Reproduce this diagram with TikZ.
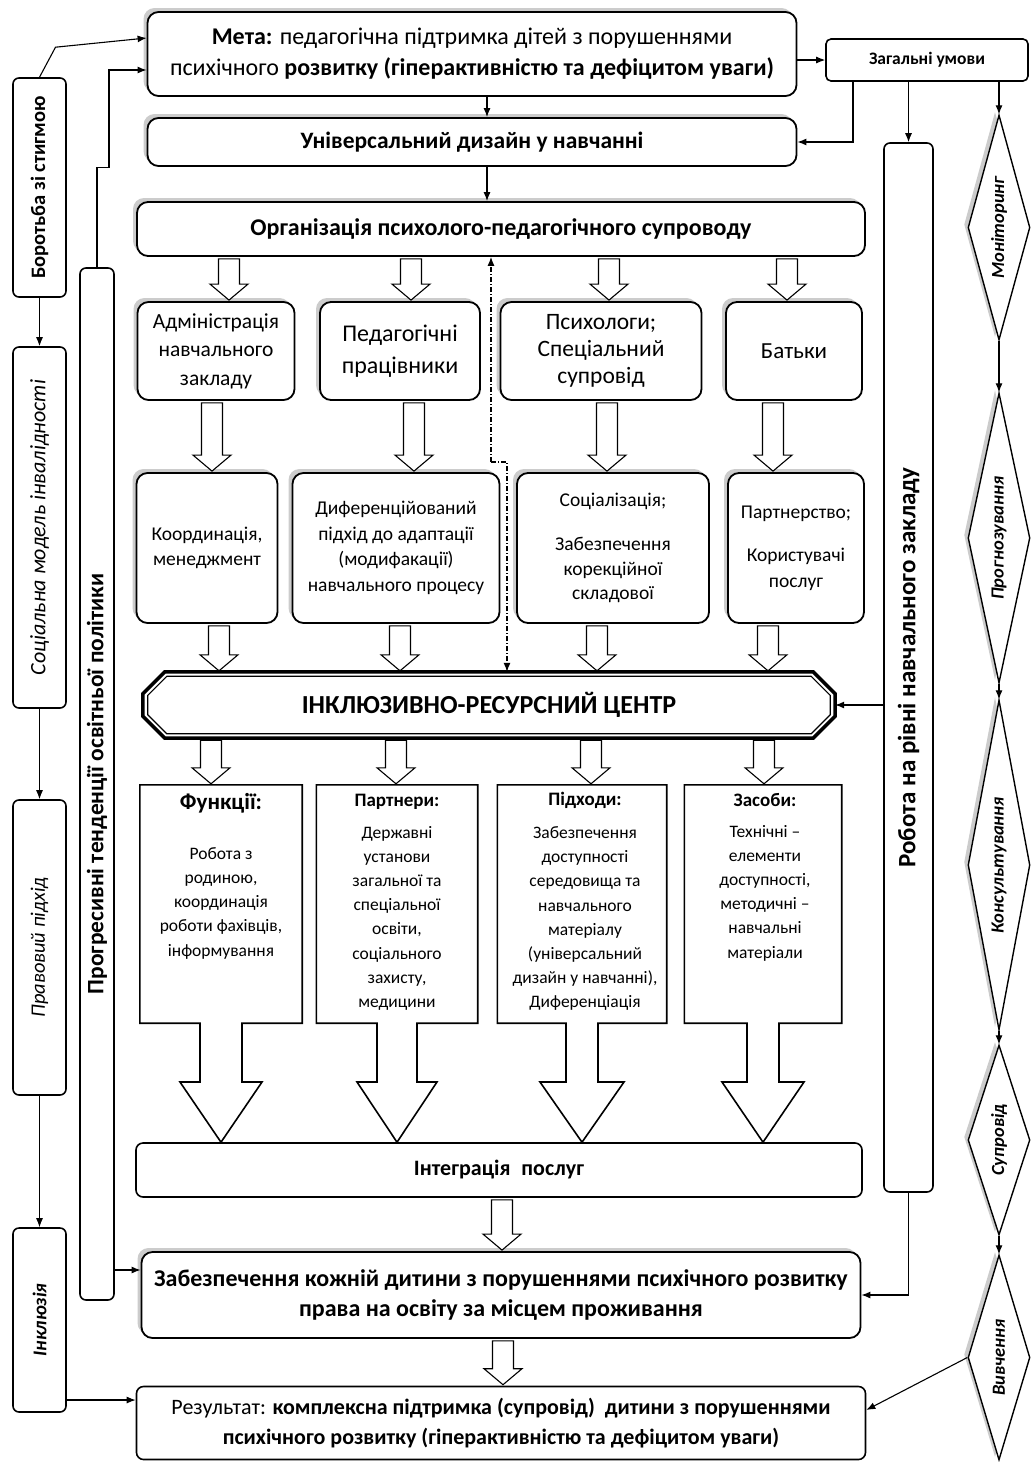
\documentclass[tikz,border=0pt]{standalone}
\usepackage{fontspec}
\setmainfont{Carlito}
\usetikzlibrary{positioning, calc, arrows.meta, shapes.geometric, shadows}

\newcommand{\setfs}[2]{\fontsize{#1pt}{#2pt}\selectfont}

% hollow block arrow at x=#1, from node anchor #2 down to node anchor #3
\newcommand{\fatarrow}[3]{%
  \draw[hollow] let \p1=(#2), \p2=(#3) in
    ({#1pt-10.5pt},{\y1-2pt}) -- ({#1pt+10.5pt},{\y1-2pt}) -- ({#1pt+10.5pt},{\y2+17pt})
    -- ({#1pt+19pt},{\y2+17pt}) -- ({#1pt},{\y2+1pt}) -- ({#1pt-19pt},{\y2+17pt})
    -- ({#1pt-10.5pt},{\y2+17pt}) -- cycle;}

% box running out into a wide arrow down to the integration box
\newcommand{\arrowbox}[3]{%
  \draw[abox] (#1.north west) -- (#1.north east) -- (#1.south east)
    -- ([xshift=#2]#1.south) -- ([xshift=#2]#1.south |- hl) -- ([xshift=#3]#1.south |- hl)
    -- (#1.south |- integ.north) -- ([xshift=-#3]#1.south |- hl) -- ([xshift=-#2]#1.south |- hl)
    -- ([xshift=-#2]#1.south) -- (#1.south west) -- cycle;}

% chamfered outline round a node
\newcommand{\chambox}[3]{%
  \draw[#3] ([xshift=#2]#1.north west) -- ([xshift=-#2]#1.north east) -- ([yshift=-#2]#1.north east)
    -- ([yshift=#2]#1.south east) -- ([xshift=-#2]#1.south east) -- ([xshift=#2]#1.south west)
    -- ([yshift=#2]#1.south west) -- ([yshift=-#2]#1.north west) -- cycle;}

\begin{document}
\begin{tikzpicture}[x=1pt, y=-1pt,
  box/.style={draw, line width=1.8pt, rounded corners=11pt, fill=white, align=center, inner sep=0pt,
    drop shadow={shadow xshift=-4pt, shadow yshift=4pt, fill=black!20, opacity=1}},
  plainbox/.style={draw, line width=1.6pt, rounded corners=7pt, fill=white, align=center, inner sep=0pt},
  lbox/.style={draw, line width=1.6pt, rounded corners=6pt, fill=white, inner sep=0pt, minimum width=53pt},
  diam/.style={diamond, draw, line width=1.4pt, fill=white, inner sep=0pt, minimum width=62pt,
    drop shadow={shadow xshift=-4pt, shadow yshift=3pt, fill=black!20, opacity=1}},
  vtext/.style={rotate=90, inner sep=0pt},
  conn/.style={line width=1.1pt, -{Latex[length=9pt,width=7pt]}},
  dashdot/.style={conn, dash pattern=on 5pt off 2pt on 1pt off 2pt},
  hollow/.style={line width=1.1pt, fill=white},
  abox/.style={line width=1.6pt, fill=white},
  ttl/.style={inner sep=0pt, font=\setfs{19}{22}\bfseries},
  body/.style={inner sep=0pt, align=center, font=\setfs{17.5}{24.2}},
  dtext/.style={vtext, font=\setfs{18.5}{20}\bfseries\itshape},
]
\fill[white] (0,0) rectangle (1034,1462);
\useasboundingbox (0,0) rectangle (1034,1462);

% top blocks
\node[box, minimum width=649pt, minimum height=84pt, font=\setfs{24}{31}] (meta) at (472,54)
  {\textbf{Мета:} педагогічна підтримка дітей з порушеннями\\психічного \textbf{розвитку (гіперактивністю та дефіцитом уваги)}};
\node[plainbox, rounded corners=5pt, minimum width=202pt, minimum height=42pt, font=\setfs{17.5}{20}\bfseries] (umovy) at (927,60) {Загальні умови};
\node[box, minimum width=649pt, minimum height=48pt, font=\setfs{23.5}{26}\bfseries] (udn) at (472,142) {Універсальний дизайн у навчанні};
\node[box, minimum width=728pt, minimum height=54pt, font=\setfs{24}{26}\bfseries] (org) at (501,229) {Організація психолого-педагогічного супроводу};

% participants
\node[box, minimum width=157pt, minimum height=98pt, font=\setfs{21.5}{28.5}] (adm) at (216,351) {Адміністрація\\навчального\\закладу};
\node[box, minimum width=160pt, minimum height=98pt, font=\setfs{24}{32}] (ped) at (400,351) {Педагогічні\\працівники};
\node[box, minimum width=201pt, minimum height=98pt, font=\setfs{23.5}{27}] (psy) at (601,351) {Психологи;\\Спеціальний\\супровід};
\node[box, minimum width=136pt, minimum height=98pt, font=\setfs{23}{26}] (bat) at (794,351) {Батьки};

% tasks
\node[box, minimum width=141pt, minimum height=150pt, font=\setfs{19.5}{25}] (koord) at (207,548) {Координація,\\менеджмент};
\node[box, minimum width=207pt, minimum height=150pt, font=\setfs{19.5}{25.5}] (dif) at (396,548) {Диференційований\\підхід до адаптації\\(модифакації)\\навчального процесу};
\node[box, minimum width=192pt, minimum height=150pt, font=\setfs{19.5}{24.5}] (soc) at (613,548) {Соціалізація;\\[20pt]Забезпечення\\корекційної\\складової};
\node[box, minimum width=136pt, minimum height=150pt, font=\setfs{19.5}{26}] (partn) at (796,548) {Партнерство;\\[17pt]Користувачі\\послуг};

% resource centre
\node[inner sep=0pt, minimum width=692pt, minimum height=66pt] (irc) at (489,705) {};
\node[inner sep=0pt, minimum width=682pt, minimum height=57pt, font=\setfs{26}{28}\bfseries] (irc-in) at (489,705) {ІНКЛЮЗИВНО-РЕСУРСНИЙ ЦЕНТР};
\chambox{irc}{22pt}{line width=3.5pt}
\chambox{irc-in}{19pt}{line width=1.2pt}

% integration and results
\node[plainbox, minimum width=726pt, minimum height=54pt, font=\setfs{22}{24}\bfseries] (integ) at (499,1170) {Інтеграція\enspace послуг};
\node[box, minimum width=719pt, minimum height=86pt, font=\setfs{24}{30}\bfseries] (zab) at (501,1295)
  {Забезпечення кожній дитини з порушеннями психічного розвитку\\права на освіту за місцем проживання};
\node[plainbox, minimum width=729pt, minimum height=73pt, font=\setfs{22}{30}\bfseries] (result) at (501,1423)
  {{\mdseries Результат:} комплексна підтримка (супровід)\ \ дитини з порушеннями\\психічного розвитку (гіперактивністю та дефіцитом уваги)};

% directions and means
\coordinate (hl) at (0,1082);
\node[minimum width=162pt, minimum height=238pt, inner sep=0pt] (func) at (221,904) {};
\node[minimum width=161pt, minimum height=238pt, inner sep=0pt] (partners) at (397,904) {};
\node[minimum width=169pt, minimum height=238pt, inner sep=0pt] (pidkh) at (582,904) {};
\node[minimum width=157pt, minimum height=238pt, inner sep=0pt] (zasob) at (763,904) {};
\arrowbox{func}{21pt}{41pt}
\arrowbox{partners}{20pt}{40pt}
\arrowbox{pidkh}{16pt}{42pt}
\arrowbox{zasob}{16pt}{41pt}
\node[ttl, font=\setfs{23}{25}\bfseries] (func-t) at (221,803) {Функції:};
\node[body, below=34pt of func-t] (func-b) {Робота з\\родиною,\\координація\\роботи фахівців,\\інформування};
\node[ttl] (partners-t) at (397,802) {Партнери:};
\node[body, below=16pt of partners-t] (partners-b) {Державні\\установи\\загальної та\\спеціальної\\освіти,\\соціального\\захисту,\\медицини};
\node[ttl] (pidkh-t) at (585,800) {Підходи:};
\node[body, below=18pt of pidkh-t] (pidkh-b) {Забезпечення\\доступності\\середовища та\\навчального\\матеріалу\\(універсальний\\дизайн у навчанні),\\Диференціація};
\node[ttl] (zasob-t) at (765,800) {Засоби:};
\node[body, below=18pt of zasob-t] (zasob-b) {Технічні –\\елементи\\доступності,\\методичні –\\навчальні\\матеріали};

% left column
\node[lbox, minimum height=219pt] (bor) at (39.5,187.5) {};
\node[vtext, font=\setfs{20.5}{22}\bfseries] (bor-t) at (bor) {Боротьба зі стигмою};
\node[lbox, minimum height=361pt] (socm) at (39.5,527.5) {};
\node[vtext, font=\setfs{22}{24}\itshape] (socm-t) at (socm) {Соціальна модель інвалідності};
\node[lbox, minimum height=295pt] (prav) at (39.5,947.5) {};
\node[vtext, font=\setfs{20.5}{22}\itshape] (prav-t) at (prav) {Правовий підхід};
\node[lbox, minimum height=184pt] (inkl) at (39.5,1320) {};
\node[vtext, font=\setfs{19.5}{22}\bfseries\itshape] (inkl-t) at (inkl) {Інклюзія};
\node[lbox, minimum width=34pt, minimum height=1032pt] (prog) at (97,784) {};
\node[vtext, font=\setfs{23.5}{25}\bfseries] (prog-t) at (prog) {Прогресивні тенденції освітньої політики};

% right column
\node[lbox, minimum width=49pt, minimum height=1049pt] (robota) at (908.5,667.5) {};
\node[vtext, font=\setfs{25}{27}\bfseries] (robota-t) at (robota) {Робота на рівні навчального закладу};
\node[diam, minimum height=225pt] (dmon) at (999,227.5) {};
\node[dtext] (dmon-t) at (dmon) {Моніторинг};
\node[diam, minimum height=290pt] (dprog) at (999,538) {};
\node[dtext] (dprog-t) at (dprog) {Прогнозування};
\node[diam, minimum height=330pt] (dkons) at (999,865) {};
\node[dtext] (dkons-t) at (dkons) {Консультування};
\node[diam, minimum height=190pt] (dsup) at (999,1140) {};
\node[dtext] (dsup-t) at (dsup) {Супровід};
\node[diam, minimum height=205pt] (dviv) at (999,1357.5) {};
\node[dtext] (dviv-t) at (dviv) {Вивчення};

% block arrows
\fatarrow{229}{org.south}{adm.north}
\fatarrow{411}{org.south}{ped.north}
\fatarrow{609}{org.south}{psy.north}
\fatarrow{787}{org.south}{bat.north}
\fatarrow{212}{adm.south}{koord.north}
\fatarrow{414}{ped.south}{dif.north}
\fatarrow{607}{psy.south}{soc.north}
\fatarrow{773}{bat.south}{partn.north}
\fatarrow{219}{koord.south}{irc.north}
\fatarrow{400}{dif.south}{irc.north}
\fatarrow{597}{soc.south}{irc.north}
\fatarrow{768}{partn.south}{irc.north}
\fatarrow{211}{irc.south}{func.north}
\fatarrow{396}{irc.south}{partners.north}
\fatarrow{591}{irc.south}{pidkh.north}
\fatarrow{764}{irc.south}{zasob.north}
\fatarrow{502}{integ.south}{zab.north}
\fatarrow{503}{zab.south}{result.north}

% thin connectors
\draw[conn] (bor.north) -- ++(16,-30) -- ([yshift=16pt]meta.west);
\draw[conn] (prog.north) -- ++(0,-100) -- ++(12,0) |- ([yshift=-16pt]meta.west);
\draw[conn] (bor.south) -- (socm.north);
\draw[conn] (socm.south) -- (prav.north);
\draw[conn] (prav.south) -- (inkl.north);
\draw[conn] ([yshift=-80pt]inkl.east) -- ([yshift=-80pt]inkl.east -| result.west);
\draw[conn] ([yshift=25pt]zab.west -| prog.east) -- ([yshift=25pt]zab.west);
\draw[conn] (umovy.west -| meta.east) -- (umovy.west);
\draw[conn] ([xshift=15pt]meta.south) -- ([xshift=15pt]udn.north);
\draw[conn] ([xshift=15pt]udn.south) -- ([xshift=-14pt]org.north);
\draw[conn] ([xshift=-74pt]umovy.south) |- (udn.east);
\draw[conn] (umovy.south -| robota.north) -- (robota.north);
\draw[conn] (umovy.south -| dmon.north) -- (dmon.north);
\draw[conn] (dmon.south) -- (dprog.north);
\draw[conn] (dprog.south) -- (dkons.north);
\draw[conn] (dkons.south) -- (dsup.north);
\draw[conn] (dsup.south) -- (dviv.north);
\draw[conn] (dviv.west) -- ([yshift=13pt]result.east);
\draw[conn] (robota.west |- irc.east) -- (irc.east);
\draw[conn] (robota.south) |- (zab.east);

% feedback between organisation and centre
\coordinate (dd) at (491,462);
\coordinate (dd2) at (507,462);
\draw[dashdot] (dd) -- (dd |- org.south);
\draw[dashdot] (dd) -- (dd2) -- (dd2 |- irc.north);
\end{tikzpicture}
\end{document}
